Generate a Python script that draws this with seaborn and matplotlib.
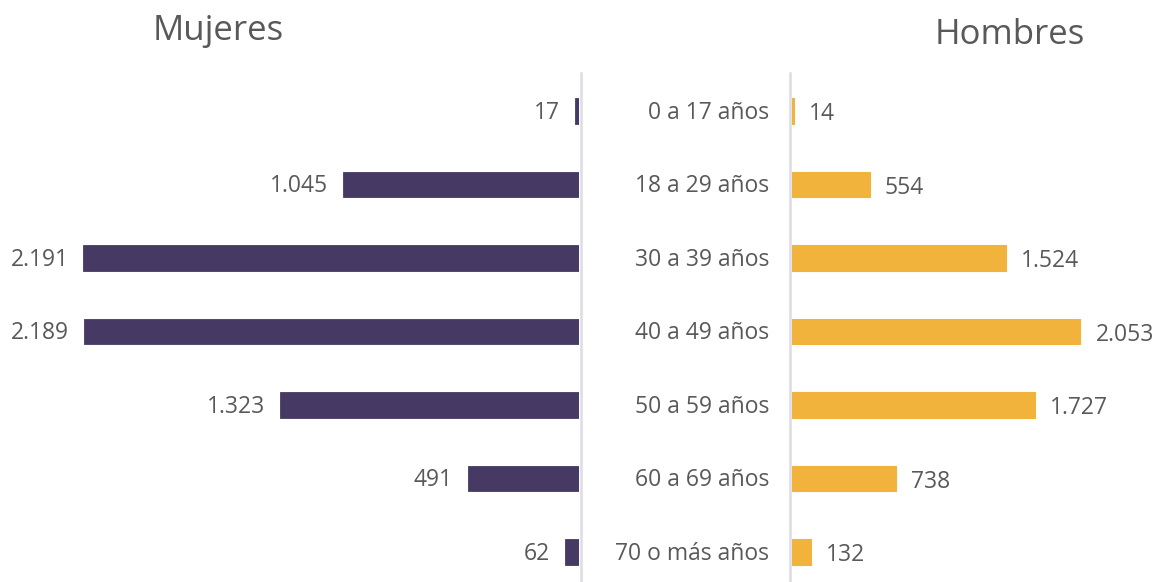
import matplotlib
matplotlib.use("Agg")
import matplotlib.pyplot as plt
import matplotlib.transforms as mtransforms
import seaborn as sns
import pandas as pd

categories = ["0 a 17 años", "18 a 29 años", "30 a 39 años", "40 a 49 años",
              "50 a 59 años", "60 a 69 años", "70 o más años"]
mujeres = [17, 1045, 2191, 2189, 1323, 491, 62]
hombres = [14, 554, 1524, 2053, 1727, 738, 132]

sns.set_theme(style="white")
plt.rcParams['font.family'] = ['Open Sans', 'DejaVu Sans']

PURPLE = "#463A64"
ORANGE = "#F2B33D"
TXT = "#595959"
LINE = "#DCDCE4"

W, H = 1158, 582
fig = plt.figure(figsize=(W / 100, H / 100), dpi=100)

top_px, bot_px = 73, 582
ax_b = 1 - bot_px / H
ax_h = (bot_px - top_px) / H
axL = fig.add_axes([0, ax_b, 579 / W, ax_h])
axR = fig.add_axes([792 / W, ax_b, (W - 792) / W, ax_h])

df = pd.DataFrame({"cat": categories, "m": mujeres, "h": hombres})

sns.barplot(data=df, x="m", y="cat", ax=axL, color=PURPLE, width=0.35,
            saturation=1, orient="h", edgecolor=PURPLE, linewidth=0.6)
sns.barplot(data=df, x="h", y="cat", ax=axR, color=ORANGE, width=0.35,
            saturation=1, orient="h", edgecolor=ORANGE, linewidth=0.8)

ylim = (6.408, -0.517)
axL.set_xlim(579 / 0.2262, 0)
axR.set_xlim(0, (W - 792) / 0.1405)
for ax in (axL, axR):
    ax.set_ylim(*ylim)
    ax.set_xlabel("")
    ax.set_ylabel("")
    ax.set_xticks([])
    ax.set_yticks([])
    for s in ax.spines.values():
        s.set_visible(False)
axL.spines["right"].set_visible(True)
axL.spines["right"].set_color(LINE)
axL.spines["right"].set_linewidth(1.8)
axL.spines["right"].set_position(("outward", 1.5))
axR.spines["left"].set_visible(True)
axR.spines["left"].set_color(LINE)
axR.spines["left"].set_linewidth(1.8)
axR.spines["left"].set_position(("outward", 1.5))


def fmt(v):
    return f"{v:,}".replace(",", ".")


FS = 16.5
offL = mtransforms.offset_copy(axL.transData, fig=fig, x=-15 * 0.72, y=-1.5 * 0.72, units="points")
for i, v in enumerate(mujeres):
    axL.text(v, i, fmt(v), transform=offL, ha="right", va="center",
             fontsize=FS, color=TXT)
offR = mtransforms.offset_copy(axR.transData, fig=fig, x=15 * 0.72, y=-3 * 0.72, units="points")
for i, v in enumerate(hombres):
    axR.text(v, i, fmt(v), transform=offR, ha="left", va="center",
             fontsize=FS, color=TXT)

blend = mtransforms.offset_copy(
    mtransforms.blended_transform_factory(fig.transFigure, axL.transData),
    fig=fig, x=0, y=-1.5 * 0.72, units="points")
for i, c in enumerate(categories):
    axL.text(769 / W, i, c, transform=blend, ha="right", va="center",
             fontsize=FS, color=TXT, clip_on=False)

fig.text(218 / W, 1 - 31 / H, "Mujeres", ha="center", va="center",
         fontsize=25, color=TXT)
fig.text(1010 / W, 1 - 35 / H, "Hombres", ha="center", va="center",
         fontsize=25, color=TXT)

fig.savefig("out.png", dpi=100)
